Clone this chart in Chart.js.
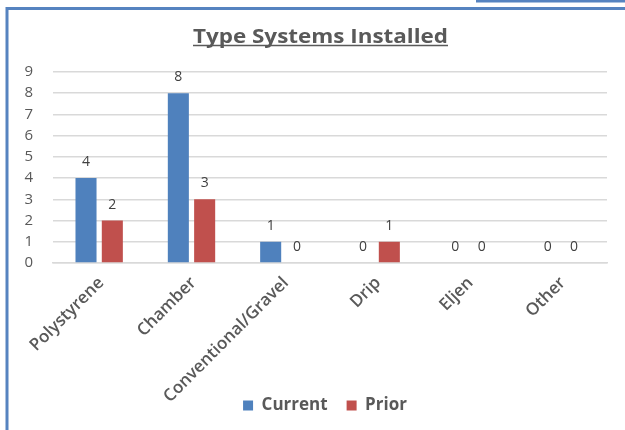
<!DOCTYPE html>
<html>
<head>
<meta charset="utf-8">
<script src="https://cdn.jsdelivr.net/npm/chart.js@4"></script>
<style>
html,body{margin:0;padding:0;background:#fff;}
#wrap{width:625px;height:430px;position:relative;}
</style>
</head>
<body>
<div id="wrap"><canvas id="c" width="625" height="430"></canvas></div>
<script>
const categories = ["Polystyrene", "Chamber", "Conventional/Gravel", "Drip", "Eljen", "Other"];
const currentValues = [4, 8, 1, 0, 0, 0];
const priorValues = [2, 3, 0, 1, 0, 0];
const yTicks = [0, 1, 2, 3, 4, 5, 6, 7, 8, 9];
const chartTitle = "Type Systems Installed";

const FONT = "'Open Sans', 'Liberation Sans', sans-serif";
const TEXT = "#595959";

const framePlugin = {
  id: 'frame',
  afterLayout(chart) {
    if (chart.legend) { chart.legend.left -= 5; chart.legend.right -= 5; }
    // let the rotated category labels run past the scale box without clipping
    if (chart.scales.x) { chart.scales.x.bottom = chart.height; }
  },
  beforeDraw(chart) {
    const ctx = chart.ctx;
    ctx.save();
    ctx.fillStyle = '#fff';
    ctx.fillRect(0, 0, chart.width, chart.height);
    ctx.strokeStyle = '#5683c0';
    ctx.lineWidth = 3;
    ctx.beginPath();
    ctx.moveTo(7, 430); ctx.lineTo(7, 8.5); ctx.lineTo(625, 8.5);
    ctx.moveTo(476, 1); ctx.lineTo(625, 1);
    ctx.stroke();
    // title (stretched to the reference width)
    ctx.fillStyle = TEXT;
    ctx.font = "bold 19px " + FONT;
    ctx.textAlign = 'center';
    ctx.textBaseline = 'alphabetic';
    const tx = 320.5, ty = 42.5, targetW = 255;
    const w = ctx.measureText(chartTitle).width;
    ctx.save();
    ctx.translate(tx, ty);
    ctx.scale(targetW / w, 1);
    ctx.fillText(chartTitle, 0, 0);
    ctx.restore();
    ctx.strokeStyle = TEXT;
    ctx.lineWidth = 1.3;
    ctx.beginPath();
    ctx.moveTo(tx - targetW / 2, 45.5); ctx.lineTo(tx + targetW / 2, 45.5);
    ctx.stroke();
    ctx.restore();
  }
};

const labelPlugin = {
  id: 'valueLabels',
  afterDatasetsDraw(chart) {
    const ctx = chart.ctx;
    ctx.save();
    ctx.fillStyle = '#404040';
    ctx.font = "14px " + FONT;
    ctx.textAlign = 'center';
    ctx.textBaseline = 'bottom';
    chart.data.datasets.forEach((ds, i) => {
      const meta = chart.getDatasetMeta(i);
      meta.data.forEach((el, j) => {
        ctx.fillText(String(ds.data[j]), el.x, el.y - 9);
      });
    });
    ctx.restore();
  }
};

new Chart(document.getElementById('c'), {
  type: 'bar',
  data: {
    labels: categories,
    datasets: [
      { label: 'Current', data: currentValues, backgroundColor: '#4f81bd', categoryPercentage: 0.57, barPercentage: 0.8 },
      { label: 'Prior', data: priorValues, backgroundColor: '#c0504d', categoryPercentage: 0.57, barPercentage: 0.8 }
    ]
  },
  options: {
    responsive: false,
    animation: false,
    layout: { padding: { left: 0, right: 18, top: 72, bottom: 6 } },
    plugins: {
      title: { display: false },
      tooltip: { enabled: false },
      legend: {
        position: 'bottom',
        fullSize: false,
        labels: {
          color: TEXT,
          font: { family: FONT, size: 17, weight: 'bold' },
          boxWidth: 10, boxHeight: 10, padding: 19
        }
      }
    },
    scales: {
      y: {
        min: 0, max: 9,
        afterFit(scale) { scale.width = 53; },
        afterBuildTicks(scale) { scale.ticks = yTicks.map(v => ({ value: v })); },
        border: { display: false },
        grid: { color: '#d9d9d9', lineWidth: 1.5, drawTicks: false },
        ticks: { color: TEXT, padding: 20, autoSkip: false, font: { family: FONT, size: 15 } }
      },
      x: {
        afterFit(scale) { scale.height = 115; },
        border: { display: true, color: '#d9d9d9', width: 1.5 },
        grid: { display: false, drawTicks: false },
        ticks: {
          color: TEXT, padding: 10, minRotation: 45, maxRotation: 45,
          autoSkip: false, labelOffset: 2,
          font: { family: FONT, size: 17, weight: '600' }
        }
      }
    }
  },
  plugins: [framePlugin, labelPlugin]
});
</script>
</body>
</html>
